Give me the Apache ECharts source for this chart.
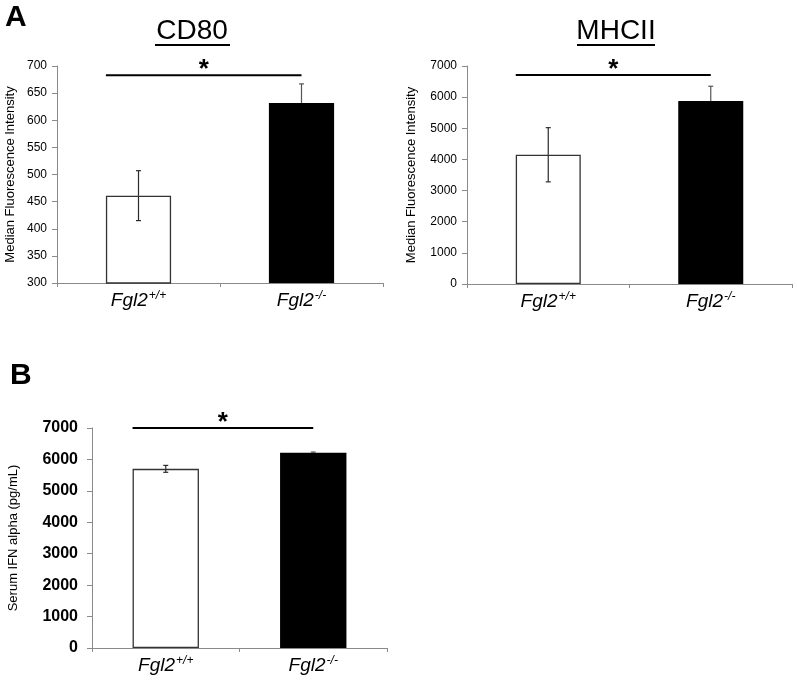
<!DOCTYPE html>
<html>
<head>
<meta charset="utf-8">
<script src="https://cdn.jsdelivr.net/npm/echarts@6/dist/echarts.min.js"></script>
<style>html,body{margin:0;padding:0;background:#fff}#c{width:797px;height:685px}</style>
</head>
<body>
<div id="c"></div>
<script>
// ---- data ----
const categories = ['Fgl2+/+', 'Fgl2-/-'];
const cd80Mean = [461, 632];
const cd80Err = [46, 35];
const mhcMean = [4150, 5880];
const mhcErr = [870, 470];
const ifnMean = [5700, 6210];
const ifnErr = [110, 25];
const sigLevels = [683, 6710, 7000];
const panelTitles = ['CD80', 'MHCII'];
const yNames = ['Median Fluorescence Intensity', 'Median Fluorescence Intensity', 'Serum IFN alpha (pg/mL)'];

const FONT = 'Liberation Sans, Arial, sans-serif';
const chart = echarts.init(document.getElementById('c'), null, {renderer: 'canvas'});

const barRatios = [0.40, 0.40, 0.45];
const means = [cd80Mean, mhcMean, ifnMean];
const errs = [cd80Err, mhcErr, ifnErr];

function xAxisFor(i) {
  return {
    type: 'category', gridIndex: i, data: categories,
    axisLine: {lineStyle: {color: '#8a8a8a', width: 1}},
    axisTick: {show: true, length: 4, lineStyle: {color: '#8a8a8a'}},
    axisLabel: {
      margin: 7,
      formatter: v => '{i|' + v.slice(0, 4) + '}{s|' + v.slice(4) + '}',
      rich: {
        i: {fontFamily: FONT, fontStyle: 'italic', fontSize: 19, color: '#000', lineHeight: 22},
        s: {fontFamily: FONT, fontStyle: 'italic', fontSize: 12, color: '#000', verticalAlign: 'top', lineHeight: 22, padding: [0,0,0,1]}
      }
    }
  };
}

function yAxisFor(i, min, max, interval, fs, bold, margin, gap) {
  return {
    type: 'value', gridIndex: i, min: min, max: max, interval: interval,
    splitLine: {show: false},
    axisLine: {show: true, lineStyle: {color: '#8a8a8a', width: 1}},
    axisTick: {show: true, length: 5, lineStyle: {color: '#8a8a8a'}},
    axisLabel: {margin: margin, fontFamily: FONT, fontSize: fs, fontWeight: bold ? 'bold' : 'normal', color: '#000',
      formatter: v => String(v)},
    name: yNames[i], nameLocation: 'middle', nameRotate: 90, nameGap: gap,
    nameTextStyle: {fontFamily: FONT, fontSize: 13, color: '#000'}
  };
}

function barSeries(i) {
  return {
    type: 'bar', xAxisIndex: i, yAxisIndex: i, barWidth: (barRatios[i] * 100) + '%', z: 2,
    data: means[i].map((v, k) => ({
      value: v,
      itemStyle: k === 0 ? {color: '#fff', borderColor: '#333', borderWidth: 1.3} : {color: '#000'}
    })),
    silent: true
  };
}

function errSeries(i) {
  return {
    type: 'custom', xAxisIndex: i, yAxisIndex: i, silent: true, z: 5,
    data: means[i].map((v, k) => [k, v, errs[i][k]]),
    encode: {x: 0, y: 1},
    renderItem: function (params, api) {
      const x = api.value(0), m = api.value(1), e = api.value(2);
      const t = api.coord([x, m + e]);
      const c = api.coord([x, m]);
      const b = api.coord([x, m - e]);
      const cap = 2.5;
      const dark = params.dataIndex === 1;
      const up = {stroke: dark ? '#555' : '#2a2a2a', lineWidth: 1.2};
      const dn = {stroke: dark ? '#000' : '#2a2a2a', lineWidth: 1.2};
      return {type: 'group', children: [
        {type: 'line', shape: {x1: t[0], y1: t[1], x2: c[0], y2: c[1]}, style: up},
        {type: 'line', shape: {x1: c[0], y1: c[1], x2: b[0], y2: b[1]}, style: dn},
        {type: 'line', shape: {x1: t[0] - cap, y1: t[1], x2: t[0] + cap, y2: t[1]}, style: up},
        {type: 'line', shape: {x1: b[0] - cap, y1: b[1], x2: b[0] + cap, y2: b[1]}, style: dn}
      ]};
    }
  };
}

function sigSeries(i) {
  return {
    type: 'custom', xAxisIndex: i, yAxisIndex: i, silent: true, clip: false, z: 5,
    data: [[0, sigLevels[i]]],
    encode: {x: 0, y: 1},
    renderItem: function (params, api) {
      const lv = api.value(1);
      const c0 = api.coord([0, lv]);
      const c1 = api.coord([1, lv]);
      const bw = api.size([1, 0])[0];
      const x0 = c0[0] - bw * barRatios[i] / 2;
      const x1 = c1[0];
      return {type: 'group', children: [
        {type: 'line', shape: {x1: x0, y1: c0[1], x2: x1, y2: c0[1]}, style: {stroke: '#000', lineWidth: 2}},
        {type: 'text', style: {text: '*', x: (x0 + x1) / 2, y: c0[1] - 5, align: 'center', verticalAlign: 'middle',
          font: 'bold 26px ' + FONT, fill: '#000'}}
      ]};
    }
  };
}

const option = {
  animation: false,
  backgroundColor: '#fff',
  title: [
    {text: 'A', left: 5, top: 3, padding: 0, textStyle: {fontFamily: FONT, fontWeight: 'bold', fontSize: 30, color: '#000'}},
    {text: 'B', left: 10, top: 361, padding: 0, textStyle: {fontFamily: FONT, fontWeight: 'bold', fontSize: 30, color: '#000'}},
    {text: panelTitles[0], left: 192, top: 17, textAlign: 'center', padding: 0, textStyle: {fontFamily: FONT, fontWeight: 'normal', fontSize: 28, color: '#000'}},
    {text: panelTitles[1], left: 616, top: 17, textAlign: 'center', padding: 0, textStyle: {fontFamily: FONT, fontWeight: 'normal', fontSize: 28, color: '#000'}}
  ],
  grid: [
    {left: 57, top: 66, width: 326, height: 217},
    {left: 467, top: 66, width: 325, height: 218},
    {left: 92, top: 428, width: 295, height: 220}
  ],
  xAxis: [xAxisFor(0), xAxisFor(1), xAxisFor(2)],
  yAxis: [
    yAxisFor(0, 300, 700, 50, 12, false, 10, 40),
    yAxisFor(1, 0, 7000, 1000, 12, false, 10, 49),
    yAxisFor(2, 0, 7000, 1000, 16, true, 14, 72)
  ],
  series: [
    barSeries(0), barSeries(1), barSeries(2),
    errSeries(0), errSeries(1), errSeries(2),
    sigSeries(0), sigSeries(1), sigSeries(2)
  ],
  graphic: [
    {type: 'line', shape: {x1: 155, y1: 45, x2: 230, y2: 45}, style: {stroke: '#000', lineWidth: 2}},
    {type: 'line', shape: {x1: 577, y1: 45, x2: 655, y2: 45}, style: {stroke: '#000', lineWidth: 2}}
  ]
};
chart.setOption(option);
</script>
</body>
</html>
